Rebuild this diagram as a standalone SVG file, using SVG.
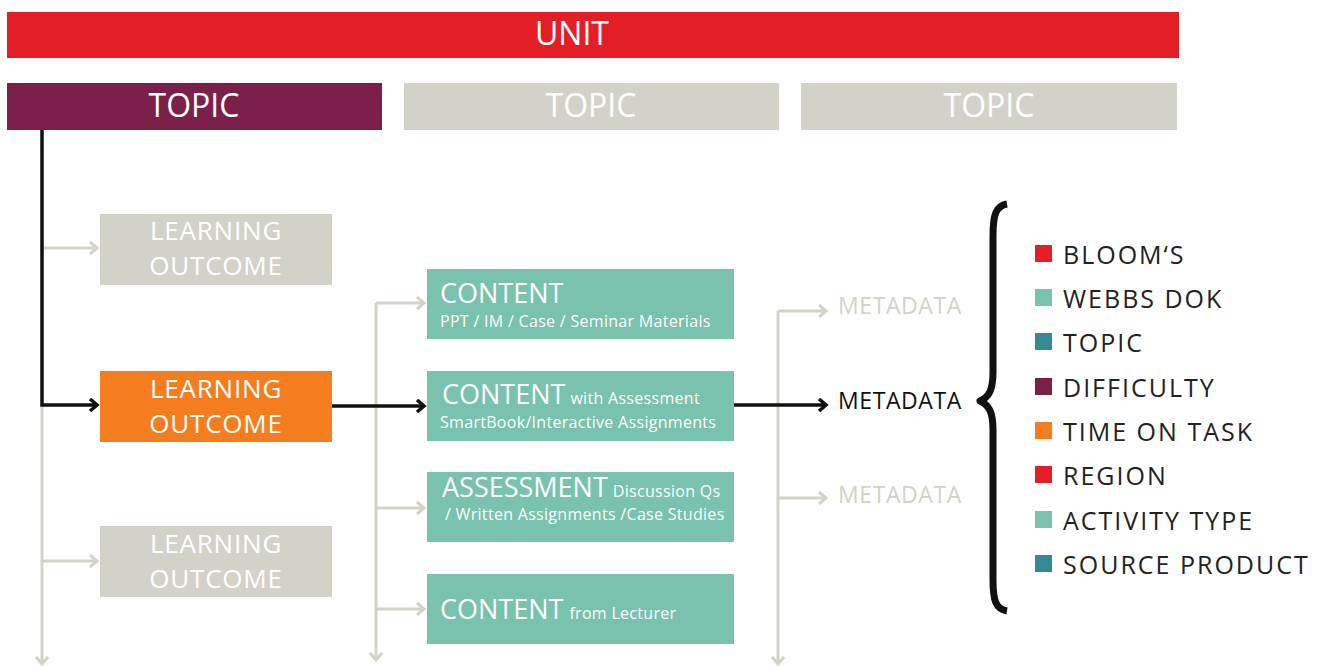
<svg xmlns="http://www.w3.org/2000/svg" width="1328" height="667" viewBox="0 0 1328 667">
<defs>
<marker id="ag" markerWidth="12" markerHeight="14" refX="9" refY="7" orient="auto" markerUnits="userSpaceOnUse">
<path d="M2 1 L9 7 L2 13" fill="none" stroke="#D3D2C8" stroke-width="3"/>
</marker>
<marker id="ab" markerWidth="12" markerHeight="14" refX="9" refY="7" orient="auto" markerUnits="userSpaceOnUse">
<path d="M2 1 L9 7 L2 13" fill="none" stroke="#111" stroke-width="3.5"/>
</marker>
<style>
text{font-family:"Open Sans","Liberation Sans",sans-serif;}
.w{fill:#fff;}
.big{font-size:32px;text-anchor:middle;}
.lo{font-size:26px;text-anchor:middle;fill:#fff;letter-spacing:0.8px;}
.ct{font-size:27px;fill:#fff;}
.sm{font-size:16px;fill:#fff;letter-spacing:0.3px;}
.md{font-size:23px;letter-spacing:0.6px;}
.lg{font-size:25px;fill:#222;letter-spacing:2px;}
.g{stroke:#D3D2C8;stroke-width:3;fill:none;}
.b{stroke:#111;stroke-width:3.5;fill:none;}
</style>
</defs>
<rect width="1328" height="667" fill="#fff"/>
<g id="unit"><rect x="7" y="12" width="1172" height="46" fill="#E31E26"/><text x="572" y="45" class="big w">UNIT</text></g>
<g id="topic1"><rect x="7" y="83" width="375" height="47" fill="#7B2149"/><text x="194" y="117" class="big w">TOPIC</text></g>
<g id="topic2"><rect x="404" y="83" width="375" height="47" fill="#D3D2C8"/><text x="591" y="117" class="big w">TOPIC</text></g>
<g id="topic3"><rect x="801" y="83" width="376" height="47" fill="#D3D2C8"/><text x="989" y="117" class="big w">TOPIC</text></g>

<g id="connectors">
<path class="g" d="M42 406 L42 664" marker-end="url(#ag)"/>
<path class="g" d="M42 248 L97 248" marker-end="url(#ag)"/>
<path class="g" d="M42 561 L97 561" marker-end="url(#ag)"/>
<path class="b" d="M42 130 L42 405 L97 405" marker-end="url(#ab)"/>
<path class="g" d="M376 303 L376 660" marker-end="url(#ag)"/>
<path class="g" d="M376 303 L424 303" marker-end="url(#ag)"/>
<path class="g" d="M376 508 L424 508" marker-end="url(#ag)"/>
<path class="g" d="M376 609 L424 609" marker-end="url(#ag)"/>
<path class="b" d="M332 406 L424 406" marker-end="url(#ab)"/>
<path class="g" d="M778 311 L778 664" marker-end="url(#ag)"/>
<path class="g" d="M778 311 L826 311" marker-end="url(#ag)"/>
<path class="g" d="M778 498 L826 498" marker-end="url(#ag)"/>
<path class="b" d="M734 405 L826 405" marker-end="url(#ab)"/>
</g>

<g id="lo1"><rect x="100" y="214" width="232" height="71" fill="#D3D2C8"/><text x="216" y="240" class="lo">LEARNING</text><text x="216" y="275" class="lo">OUTCOME</text></g>
<g id="lo2"><rect x="100" y="371" width="232" height="71" fill="#F47D20"/><text x="216" y="398" class="lo">LEARNING</text><text x="216" y="433" class="lo">OUTCOME</text></g>
<g id="lo3"><rect x="100" y="526" width="232" height="71" fill="#D3D2C8"/><text x="216" y="553" class="lo">LEARNING</text><text x="216" y="588" class="lo">OUTCOME</text></g>

<g id="content1"><rect x="427" y="269" width="307" height="70" fill="#79C2AD"/><text x="440" y="303" class="ct">CONTENT</text><text x="440" y="327" class="sm">PPT / IM / Case / Seminar Materials</text></g>
<g id="content2"><rect x="427" y="371" width="307" height="70" fill="#79C2AD"/><text x="442" y="404" class="ct">CONTENT<tspan class="sm" dx="5">with Assessment</tspan></text><text x="440" y="428" class="sm">SmartBook/Interactive Assignments</text></g>
<g id="assessment"><rect x="427" y="472" width="307" height="70" fill="#79C2AD"/><text x="442" y="497" class="ct">ASSESSMENT<tspan class="sm" dx="5">Discussion Qs</tspan></text><text x="445" y="520" class="sm">/ Written Assignments /Case Studies</text></g>
<g id="content4"><rect x="427" y="574" width="307" height="70" fill="#79C2AD"/><text x="440" y="619" class="ct">CONTENT<tspan class="sm" dx="6">from Lecturer</tspan></text></g>

<g id="meta1"><text x="838" y="314" class="md" fill="#D3D2C8">METADATA</text></g>
<g id="meta2"><text x="838" y="409" class="md" fill="#111">METADATA</text></g>
<g id="meta3"><text x="838" y="503" class="md" fill="#D3D2C8">METADATA</text></g>

<g id="brace"><path d="M1007 204 C996 206 993 214 993 236 L993 372 C993 390 989 397 980 401 C989 405 993 412 993 430 L993 580 C993 601 996 609 1007 611" fill="none" stroke="#111" stroke-width="7" stroke-linejoin="round"/></g>

<g id="legend">
<rect x="1035" y="245" width="17" height="17" fill="#E31E26"/><text x="1063" y="264" class="lg">BLOOM‘S</text>
<rect x="1035" y="289" width="17" height="17" fill="#79C2AD"/><text x="1063" y="308" class="lg">WEBBS DOK</text>
<rect x="1035" y="333" width="17" height="17" fill="#368A91"/><text x="1063" y="352" class="lg">TOPIC</text>
<rect x="1035" y="378" width="17" height="17" fill="#7B2149"/><text x="1063" y="397" class="lg">DIFFICULTY</text>
<rect x="1035" y="422" width="17" height="17" fill="#F47D20"/><text x="1063" y="441" class="lg">TIME ON TASK</text>
<rect x="1035" y="466" width="17" height="17" fill="#E31E26"/><text x="1063" y="485" class="lg">REGION</text>
<rect x="1035" y="511" width="17" height="17" fill="#79C2AD"/><text x="1063" y="530" class="lg">ACTIVITY TYPE</text>
<rect x="1035" y="555" width="17" height="17" fill="#368A91"/><text x="1063" y="574" class="lg">SOURCE PRODUCT</text>
</g>
</svg>
